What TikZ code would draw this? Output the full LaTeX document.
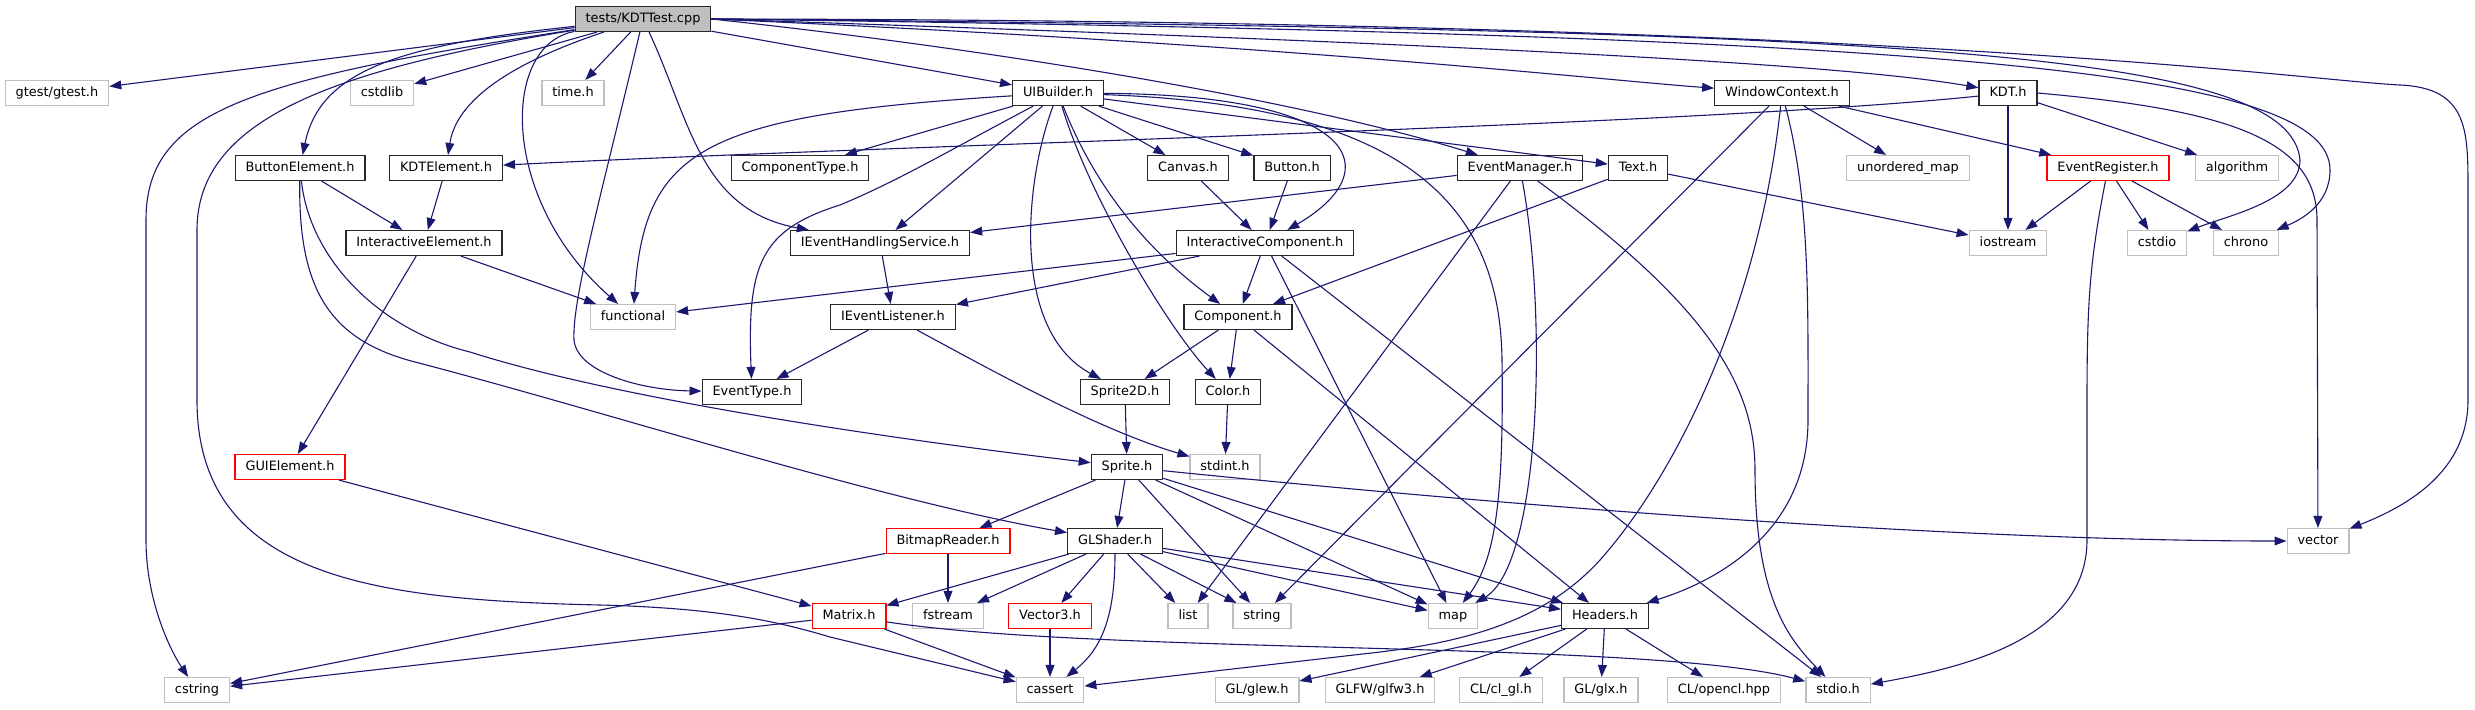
\documentclass[tikz,border=0pt]{standalone}
\usepackage{fontspec}
\setmainfont{DejaVu Sans}
\usetikzlibrary{arrows.meta}
\definecolor{inclBlue}{RGB}{25,25,112}
\definecolor{sysGrey}{RGB}{191,191,191}
\definecolor{rootGrey}{RGB}{191,191,191}
\definecolor{boxDark}{RGB}{40,40,40}
\definecolor{missRed}{RGB}{255,0,0}
\tikzset{
  filebox/.style={
    rectangle, draw=boxDark, line width=0.65pt, fill=white, text=black,
    inner xsep=5.2pt, inner ysep=0pt, minimum height=12.4pt,
    text height=4.9pt, text depth=1.4pt,
    font=\fontsize{6.45pt}{7.7pt}\selectfont},
  rootbox/.style={filebox, fill=rootGrey, draw=boxDark},
  sysbox/.style={filebox, draw=sysGrey},
  missbox/.style={filebox, draw=missRed},
  incl/.style={-{Triangle[length=6pt,width=4.4pt]}, draw=inclBlue, line width=0.55pt}
}

\begin{document}
\begin{tikzpicture}[x=0.5pt,y=-0.5pt]
  \useasboundingbox (0,0) rectangle (2475,709);

  \node[rootbox] (kdttest) at (643,19) {tests/KDTTest.cpp};

  \node[sysbox]  (gtest)     at (57,93)   {gtest/gtest.h};
  \node[sysbox]  (cstdlib)   at (382,93)  {cstdlib};
  \node[sysbox]  (timeh)     at (573,93)  {time.h};
  \node[filebox] (uibuilder) at (1058,93) {UIBuilder.h};
  \node[filebox] (winctx)    at (1782,93) {WindowContext.h};
  \node[filebox] (kdth)      at (2008,93) {KDT.h};

  \node[filebox] (btnelem)  at (300,168)  {ButtonElement.h};
  \node[filebox] (kdtelem)  at (446,168)  {KDTElement.h};
  \node[filebox] (comptype) at (800,168)  {ComponentType.h};
  \node[filebox] (canvash)  at (1188,168) {Canvas.h};
  \node[filebox] (buttonh)  at (1292,168) {Button.h};
  \node[filebox] (evmgr)    at (1520,168) {EventManager.h};
  \node[filebox] (texth)    at (1638,168) {Text.h};
  \node[sysbox]  (umap)     at (1908,168) {unordered\_map};
  \node[missbox] (evreg)    at (2108,168) {EventRegister.h};
  \node[sysbox]  (algo)     at (2237,168) {algorithm};

  \node[filebox] (ielem)  at (424,243)  {InteractiveElement.h};
  \node[filebox] (iehs)   at (880,243)  {IEventHandlingService.h};
  \node[filebox] (icomp)  at (1265,243) {InteractiveComponent.h};
  \node[sysbox]  (iostrm) at (2008,243) {iostream};
  \node[sysbox]  (cstdio) at (2157,243) {cstdio};
  \node[sysbox]  (chrono) at (2246,243) {chrono};

  \node[sysbox]  (functl) at (633,317)  {functional};
  \node[filebox] (ievl)   at (893,317)  {IEventListener.h};
  \node[filebox] (compnt) at (1238,317) {Component.h};

  \node[filebox] (evtype)   at (752,392)  {EventType.h};
  \node[filebox] (sprite2d) at (1125,392) {Sprite2D.h};
  \node[filebox] (colorh)   at (1228,392) {Color.h};

  \node[missbox] (guielem) at (290,467)  {GUIElement.h};
  \node[filebox] (spriteh) at (1127,467) {Sprite.h};
  \node[sysbox]  (stdint)  at (1225,467) {stdint.h};

  \node[missbox] (bitmap)   at (948,541)  {BitmapReader.h};
  \node[filebox] (glshader) at (1115,541) {GLShader.h};
  \node[sysbox]  (vectr)    at (2318,541) {vector};

  \node[missbox] (matrix)  at (849,616)  {Matrix.h};
  \node[sysbox]  (fstrm)   at (948,616)  {fstream};
  \node[missbox] (vector3) at (1050,616) {Vector3.h};
  \node[sysbox]  (listh)   at (1188,616) {list};
  \node[sysbox]  (stringh) at (1262,616) {string};
  \node[sysbox]  (maph)    at (1453,616) {map};
  \node[filebox] (headers) at (1605,616) {Headers.h};

  \node[sysbox] (cstring) at (197,690)  {cstring};
  \node[sysbox] (cassert) at (1050,690) {cassert};
  \node[sysbox] (glew)    at (1257,690) {GL/glew.h};
  \node[sysbox] (glfw)    at (1380,690) {GLFW/glfw3.h};
  \node[sysbox] (clgl)    at (1501,690) {CL/cl\_gl.h};
  \node[sysbox] (glx)     at (1601,690) {GL/glx.h};
  \node[sysbox] (opencl)  at (1724,690) {CL/opencl.hpp};
  \node[sysbox] (stdio)   at (1838,690) {stdio.h};

  % tests/KDTTest.cpp
  \draw[incl] (kdttest) -- (gtest);
  \draw[incl] (kdttest) -- (cstdlib);
  \draw[incl] (kdttest) -- (timeh);
  \draw[incl] (kdttest) -- (uibuilder);
  \draw[incl] (kdttest) .. controls (400,45) and (320,70) .. (btnelem);
  \draw[incl] (kdttest) .. controls (490,70) and (455,110) .. (kdtelem);
  \draw[incl] (kdttest) .. controls (500,45) and (500,200) .. (functl);
  \draw[incl] (kdttest) .. controls (600,200) and (572,300) .. (574,340) .. controls (577,372) and (640,390) .. (evtype);
  \draw[incl] (kdttest) .. controls (690,120) and (700,210) .. (iehs);
  \draw[incl] (kdttest) .. controls (250,80) and (146,110) .. (146,220) -- (146,540) .. controls (146,600) and (170,650) .. (cstring);
  \draw[incl] (kdttest) .. controls (330,70) and (197,120) .. (197,230) -- (197,400) .. controls (197,580) and (380,600) .. (600,605) .. controls (720,608) and (780,622) .. (830,637) -- (cassert);
  \draw[incl] (kdttest.east) .. controls (1000,50) and (1300,100) .. (evmgr);
  \draw[incl] (kdttest.east) .. controls (1300,45) and (1600,80) .. (winctx);
  \draw[incl] (kdttest.east) .. controls (1500,45) and (1850,65) .. (kdth);
  \draw[incl] (kdttest.east) .. controls (1900,30) and (2290,50) .. (2300,160) .. controls (2300,200) and (2230,215) .. (cstdio);
  \draw[incl] (kdttest.east) .. controls (1950,35) and (2330,70) .. (2330,170) .. controls (2330,205) and (2300,220) .. (chrono);
  \draw[incl] (kdttest.east) .. controls (1900,20) and (2300,80) .. (2400,85) .. controls (2468,88) and (2468,130) .. (2468,190) -- (2468,400) .. controls (2468,470) and (2410,505) .. (vectr);

  % UIBuilder.h
  \draw[incl] (uibuilder) -- (comptype);
  \draw[incl] (uibuilder) -- (canvash);
  \draw[incl] (uibuilder) -- (buttonh);
  \draw[incl] (uibuilder) -- (texth);
  \draw[incl] (uibuilder) -- (iehs);
  \draw[incl] (uibuilder) .. controls (700,115) and (645,150) .. (functl);
  \draw[incl] (uibuilder) .. controls (950,150) and (900,180) .. (840,205) .. controls (760,230) and (747,265) .. (evtype);
  \draw[incl] (uibuilder) .. controls (1025,180) and (1010,330) .. (sprite2d);
  \draw[incl] (uibuilder) .. controls (1090,200) and (1170,330) .. (colorh);
  \draw[incl] (uibuilder) .. controls (1100,200) and (1160,260) .. (compnt);
  \draw[incl] (uibuilder) .. controls (1360,95) and (1390,170) .. (icomp);
  \draw[incl] (uibuilder) .. controls (1400,105) and (1500,200) .. (1502,360) .. controls (1504,500) and (1495,560) .. (maph);

  % EventManager.h, Text.h
  \draw[incl] (evmgr) -- (iehs);
  \draw[incl] (evmgr) -- (listh);
  \draw[incl] (evmgr) .. controls (1548,320) and (1540,565) .. (maph);
  \draw[incl] (evmgr) .. controls (1700,300) and (1755,380) .. (1755,470) .. controls (1755,600) and (1790,640) .. (stdio);
  \draw[incl] (texth) -- (compnt);
  \draw[incl] (texth) -- (iostrm);

  % WindowContext.h
  \draw[incl] (winctx) -- (umap);
  \draw[incl] (winctx) -- (evreg);
  \draw[incl] (winctx) -- (stringh);
  \draw[incl] (winctx) .. controls (1760,300) and (1680,470) .. (1600,560) .. controls (1550,615) and (1480,640) .. (1380,652) -- (cassert);
  \draw[incl] (winctx) .. controls (1810,200) and (1808,300) .. (1808,420) .. controls (1808,530) and (1720,580) .. (headers);

  % KDT.h, EventRegister.h
  \draw[incl] (kdth) .. controls (1700,125) and (900,145) .. (kdtelem);
  \draw[incl] (kdth) -- (iostrm);
  \draw[incl] (kdth) -- (algo);
  \draw[incl] (kdth.east) .. controls (2230,110) and (2317,140) .. (2317,220) -- (vectr);
  \draw[incl] (evreg) -- (iostrm);
  \draw[incl] (evreg) -- (cstdio);
  \draw[incl] (evreg) -- (chrono);
  \draw[incl] (evreg) .. controls (2090,260) and (2087,300) .. (2087,400) -- (2087,540) .. controls (2087,640) and (1960,668) .. (stdio);

  % element side
  \draw[incl] (btnelem) -- (ielem);
  \draw[incl] (btnelem) .. controls (310,260) and (380,330) .. (470,352) .. controls (620,400) and (900,440) .. (spriteh);
  \draw[incl] (btnelem) .. controls (298,290) and (330,340) .. (415,362) .. controls (600,410) and (880,500) .. (glshader);
  \draw[incl] (kdtelem) -- (ielem);
  \draw[incl] (ielem) -- (functl);
  \draw[incl] (ielem) -- (guielem);
  \draw[incl] (guielem) -- (matrix);

  % event and component side
  \draw[incl] (iehs) -- (ievl);
  \draw[incl] (ievl) -- (evtype);
  \draw[incl] (ievl) .. controls (1000,375) and (1100,430) .. (stdint);
  \draw[incl] (canvash) -- (icomp);
  \draw[incl] (buttonh) -- (icomp);
  \draw[incl] (icomp) -- (functl);
  \draw[incl] (icomp) -- (ievl);
  \draw[incl] (icomp) -- (compnt);
  \draw[incl] (icomp) -- (maph);
  \draw[incl] (icomp) -- (stdio);
  \draw[incl] (compnt) -- (sprite2d);
  \draw[incl] (compnt) -- (colorh);
  \draw[incl] (compnt) -- (headers);
  \draw[incl] (sprite2d) -- (spriteh);
  \draw[incl] (colorh) -- (stdint);

  % Sprite.h, GLShader.h
  \draw[incl] (spriteh) -- (bitmap);
  \draw[incl] (spriteh) -- (glshader);
  \draw[incl] (spriteh) -- (stringh);
  \draw[incl] (spriteh) -- (maph);
  \draw[incl] (spriteh) -- (headers);
  \draw[incl] (spriteh) .. controls (1600,515) and (2000,541) .. (vectr);
  \draw[incl] (glshader) -- (matrix);
  \draw[incl] (glshader) -- (fstrm);
  \draw[incl] (glshader) -- (vector3);
  \draw[incl] (glshader) -- (listh);
  \draw[incl] (glshader) -- (stringh);
  \draw[incl] (glshader) -- (maph);
  \draw[incl] (glshader) -- (headers);
  \draw[incl] (glshader) .. controls (1115,620) and (1100,650) .. (cassert);

  % bottom rows
  \draw[incl] (bitmap) -- (fstrm);
  \draw[incl] (bitmap) -- (cstring);
  \draw[incl] (matrix) -- (cstring);
  \draw[incl] (matrix) -- (cassert);
  \draw[incl] (matrix) .. controls (1100,655) and (1650,640) .. (stdio);
  \draw[incl] (vector3) -- (cassert);
  \draw[incl] (headers) -- (glew);
  \draw[incl] (headers) -- (glfw);
  \draw[incl] (headers) -- (clgl);
  \draw[incl] (headers) -- (glx);
  \draw[incl] (headers) -- (opencl);
\end{tikzpicture}
\end{document}
